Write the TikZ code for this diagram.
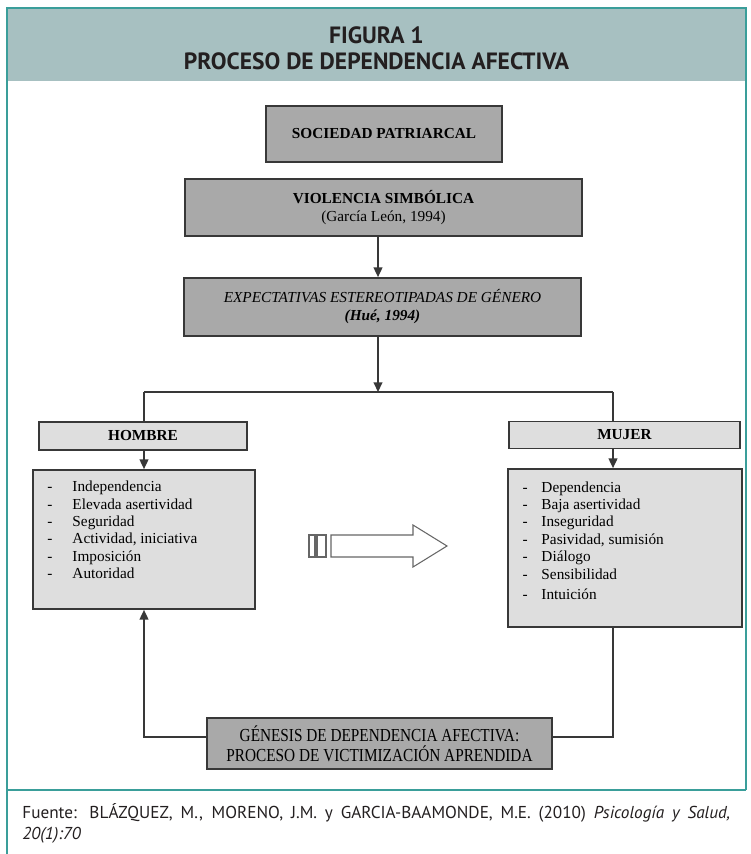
\documentclass[tikz,border=0pt]{standalone}
\usepackage{fontspec}
\setmainfont{Liberation Serif}
\newfontfamily\headfont{PT Sans}
\usetikzlibrary{arrows.meta,positioning}

\definecolor{tealline}{HTML}{3A9E9A}
\definecolor{headband}{HTML}{A7C0C1}
\definecolor{darkbox}{HTML}{A9A9A9}
\definecolor{lightbox}{HTML}{DEDEDE}
\definecolor{edgegray}{HTML}{383838}
\definecolor{inkdark}{HTML}{231F20}

\tikzset{
  darkblock/.style={draw=edgegray,line width=1pt,fill=darkbox,inner sep=2pt,align=center,
    font=\fontsize{8.7}{10.2}\selectfont},
  lightblock/.style={draw=edgegray,line width=1pt,fill=lightbox,inner sep=2pt,align=center,
    font=\fontsize{8.7}{10.2}\selectfont},
  itemlist/.style={anchor=north west,inner sep=0pt,font=\fontsize{8.7}{9.9}\selectfont},
  conn/.style={draw=edgegray,line width=0.8pt},
  arr/.style={conn,-{Triangle[length=5.5pt,width=5pt]}},
  hollow/.style={draw=black!60,line width=0.6pt,fill=white},
  frame/.style={draw=tealline,line width=0.8pt},
}

\begin{document}
\begin{tikzpicture}[x=0.02cm,y=-0.02cm]
    \useasboundingbox (0,0) rectangle (750,854);
    % header band and frame
    \fill[headband] (7,8) rectangle (746,81);
    \draw[frame] (7,854) -- (7,8) -- (746,8) -- (746,790);
    \draw[frame] (7,790) -- (746,790);
    \node[font=\headfont\bfseries\fontsize{13.4}{14.6}\selectfont,align=center,text=inkdark] (title) at (376.5,48) {FIGURA 1\\PROCESO DE DEPENDENCIA AFECTIVA};

    % top chain
    \node[darkblock,minimum width=4.72cm,minimum height=1.12cm] (soc) at (384,134) {\textbf{SOCIEDAD PATRIARCAL}};
    \node[darkblock,minimum width=7.94cm,minimum height=1.14cm] (vio) at (383.5,207.5) {\textbf{VIOLENCIA SIMBÓLICA}\\(García León, 1994)};
    \node[darkblock,minimum width=7.94cm,minimum height=1.16cm] (exp) at (382.5,307) {\textit{EXPECTATIVAS ESTEREOTIPADAS DE GÉNERO}\\\textbf{\textit{(Hué, 1994)}}};

    % the two sides
    \node[lightblock,minimum width=4.16cm,minimum height=0.56cm] (hom) at (143,436) {\textbf{HOMBRE}};
    \node[lightblock,minimum width=4.62cm,minimum height=0.54cm] (muj) at (624.5,435) {\textbf{MUJER}};
    \node[lightblock,minimum width=4.44cm,minimum height=2.78cm] (homlist) at (144,539.5) {};
    \node[lightblock,minimum width=4.68cm,minimum height=3.16cm] (mujlist) at (625,548) {};
    \node[itemlist] (homtext) at ([xshift=0.3cm,yshift=-0.2cm]homlist.north west) {%
      \begin{tabular}{@{}p{0.5cm}@{}l@{}}
      - & Independencia\\
      - & Elevada asertividad\\
      - & Seguridad\\
      - & Actividad, iniciativa\\
      - & Imposición\\
      - & Autoridad
      \end{tabular}};
    \node[itemlist] (mujtext) at ([xshift=0.3cm,yshift=-0.23cm]mujlist.north west) {%
      \begin{tabular}{@{}p{0.38cm}@{}l@{}}
      - & Dependencia\\
      - & Baja asertividad\\
      - & Inseguridad\\
      - & Pasividad, sumisión\\
      - & Diálogo\\
      - & Sensibilidad\\[1.5pt]
      - & Intuición
      \end{tabular}};

    \node[darkblock,minimum width=6.9cm,minimum height=1.02cm] (gen) at (379.5,743.5) {\scalebox{1}[1.2]{GÉNESIS DE DEPENDENCIA AFECTIVA:}\\[1pt]\scalebox{1}[1.2]{PROCESO DE VICTIMIZACIÓN APRENDIDA}};

    % connectors
    \coordinate (split) at (378,392);
    \coordinate (hx) at (144,392);
    \coordinate (mx) at (613,392);
    \coordinate (gl) at (144,737);
    \coordinate (gr) at (613,737);
    \draw[arr] (vio.south -| split) -- (exp.north -| split);
    \draw[arr] (exp.south -| split) -- (split);
    \draw[conn] (hx) -- (mx);
    \draw[conn] (hx) -- (hx |- hom.north);
    \draw[conn] (mx) -- (mx |- muj.north);
    \draw[arr] (hom.south -| hx) -- (homlist.north -| hx);
    \draw[arr] (muj.south -| mx) -- (mujlist.north -| mx);
    \draw[arr] (gen.west |- gl) -- (gl) -- (homlist.south -| gl);
    \draw[conn] (mujlist.south -| gr) -- (gr) -- (gen.east |- gr);

    % hollow arrow between the sides
    \draw[hollow] (309,535) rectangle (315,557);
    \draw[hollow] (317,535) rectangle (326,557);
    \draw[hollow] (331,535) -- (413,535) -- (413,525) -- (447,546) -- (413,567) -- (413,557) -- (331,557) -- cycle;

    % source
    \node[anchor=north west,text width=14.16cm,align=justify,inner sep=0pt,text=inkdark,
      font=\headfont\fontsize{9.8}{12.2}\selectfont] (src) at (22,803)
      {Fuente: BLÁZQUEZ, M., MORENO, J.M. y GARCIA-BAAMONDE, M.E. (2010) \textit{Psicología y Salud,}\linebreak \textit{20(1):70}};
\end{tikzpicture}
\end{document}
